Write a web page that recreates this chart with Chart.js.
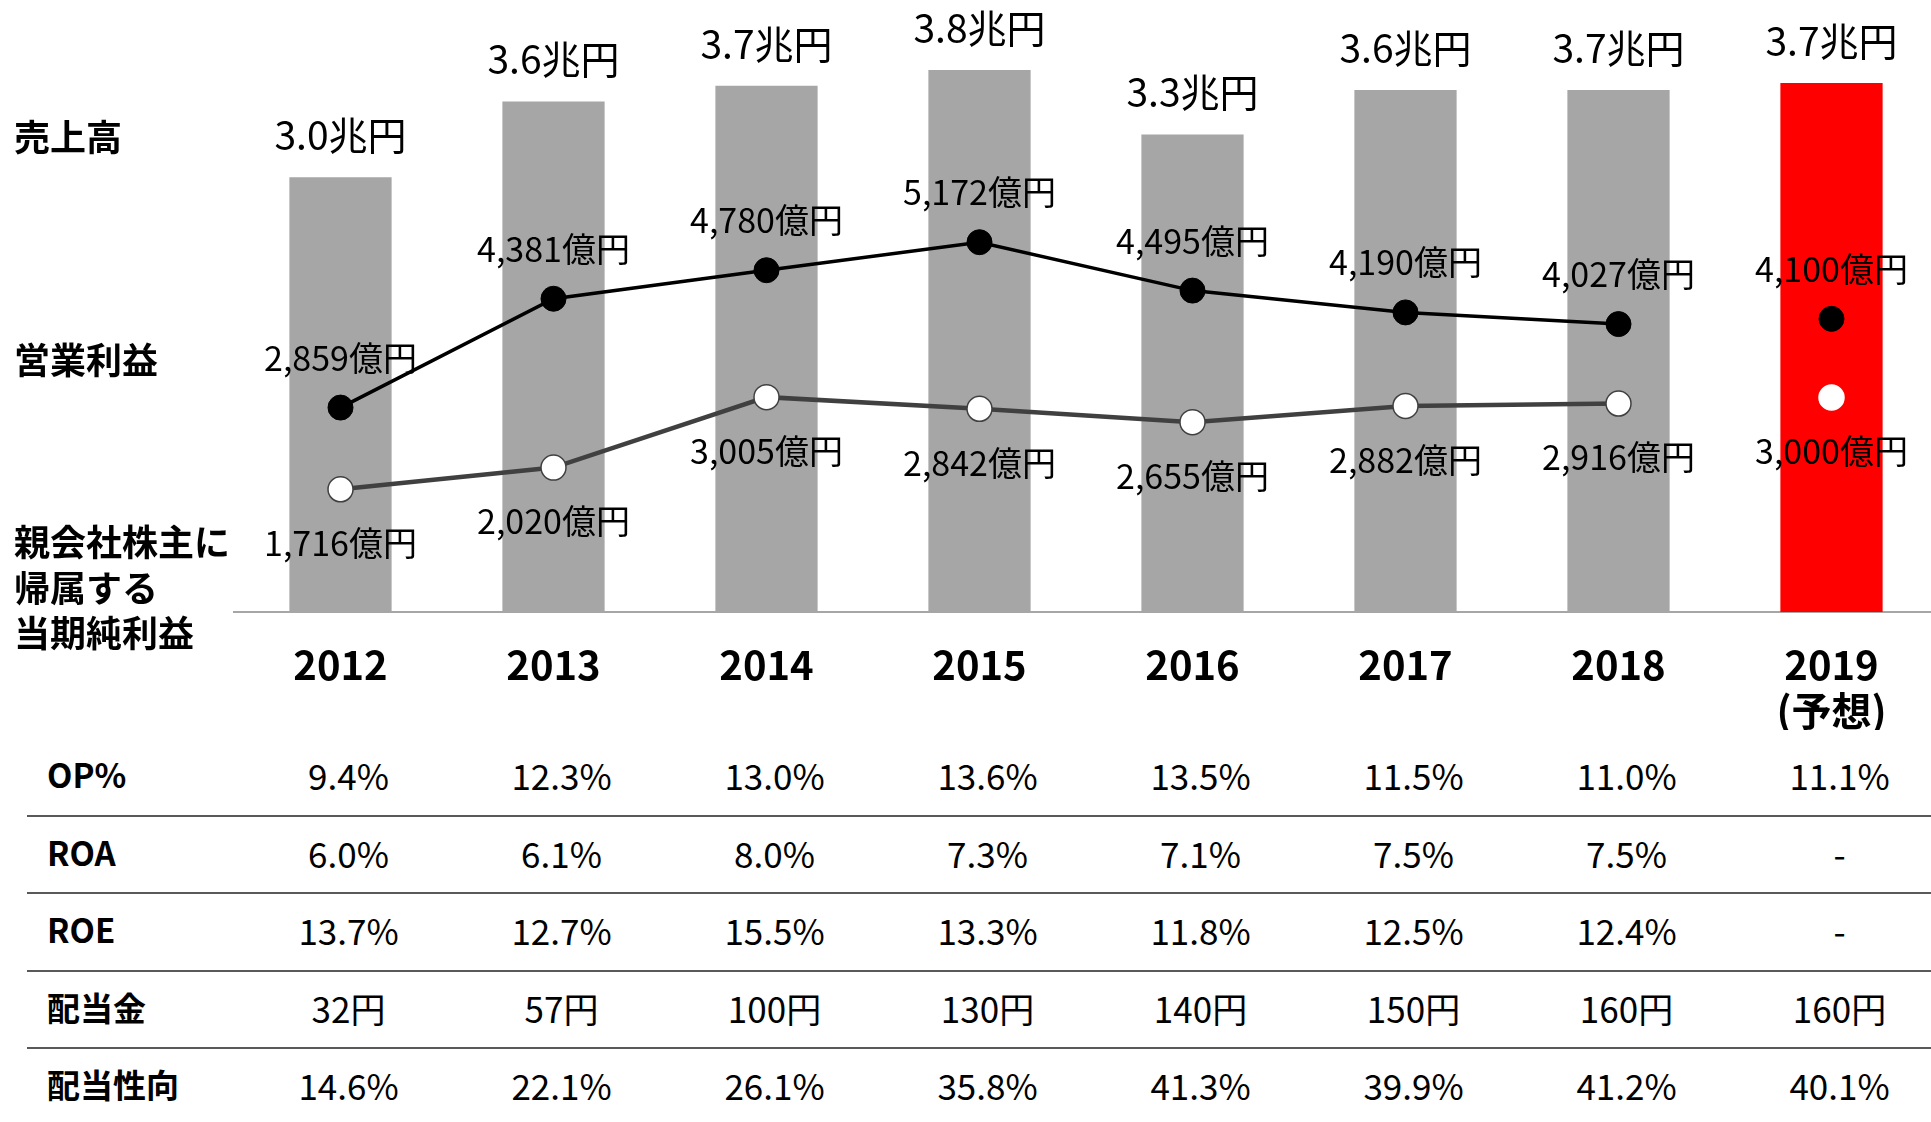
<!DOCTYPE html>
<html>
<head>
<meta charset="utf-8">
<script src="https://cdn.jsdelivr.net/npm/chart.js@4.4.1/dist/chart.umd.min.js"></script>
<style>
html,body{margin:0;padding:0;background:#fff;width:1931px;height:1122px;overflow:hidden;}
body{position:relative;font-family:"Noto Sans CJK JP","Noto Sans",sans-serif;color:#000;}
#c{position:absolute;left:0;top:0;width:1938px;height:730px;}
.side{position:absolute;left:14px;font-weight:700;font-size:36px;line-height:45.6px;white-space:nowrap;}
#table{position:absolute;left:0;top:736px;width:1931px;height:390px;}
.row{position:absolute;left:0;width:1931px;height:77.6px;}
.cell{position:absolute;top:0;height:77.6px;line-height:77.6px;font-size:35px;transform:translateX(-50%);white-space:nowrap;}
.rlabel{position:absolute;left:47px;top:0;height:77.6px;line-height:77.6px;font-size:33px;font-weight:700;white-space:nowrap;}
.rule{position:absolute;left:27px;width:1904px;height:2px;background:#595959;}
</style>
</head>
<body>
<canvas id="c" width="1938" height="730"></canvas>
<div class="side" style="top:113px;">売上高</div>
<div class="side" style="top:336px;">営業利益</div>
<div class="side" style="top:518px;">親会社株主に<br>帰属する<br>当期純利益</div>
<div id="table"></div>
<script>
// ---- data ----
const categories = ['2012', '2013', '2014', '2015', '2016', '2017', '2018', '2019'];
const categoryNotes = ['', '', '', '', '', '', '', '(予想)'];
const isForecast = [false, false, false, false, false, false, false, true];
const salesTrillionYen = [3.04, 3.57, 3.68, 3.79, 3.34, 3.65, 3.65, 3.70];
const salesLabels = ['3.0兆円', '3.6兆円', '3.7兆円', '3.8兆円', '3.3兆円', '3.6兆円', '3.7兆円', '3.7兆円'];
const operatingProfit = [2859, 4381, 4780, 5172, 4495, 4190, 4027, 4100];
const netProfit = [1716, 2020, 3005, 2842, 2655, 2882, 2916, 3000];
const tableRowLabels = ['OP%', 'ROA', 'ROE', '配当金', '配当性向'];
const opMargin = ['9.4%', '12.3%', '13.0%', '13.6%', '13.5%', '11.5%', '11.0%', '11.1%'];
const roa = ['6.0%', '6.1%', '8.0%', '7.3%', '7.1%', '7.5%', '7.5%', '-'];
const roe = ['13.7%', '12.7%', '15.5%', '13.3%', '11.8%', '12.5%', '12.4%', '-'];
const dividend = ['32円', '57円', '100円', '130円', '140円', '150円', '160円', '160円'];
const payoutRatio = ['14.6%', '22.1%', '26.1%', '35.8%', '41.3%', '39.9%', '41.2%', '40.1%'];
const oku = v => v.toLocaleString('en-US') + '億円';

const FONT = '"Noto Sans CJK JP", "Noto Sans", sans-serif';

const labelPlugin = {
  id: 'valueLabels',
  afterDatasetsDraw(chart) {
    const ctx = chart.ctx;
    ctx.save();
    ctx.fillStyle = '#000';
    ctx.textAlign = 'center';
    ctx.textBaseline = 'middle';
    ctx.font = '39px ' + FONT;
    chart.getDatasetMeta(2).data.forEach((el, i) => ctx.fillText(salesLabels[i], el.x, el.y - 42));
    ctx.font = '34px ' + FONT;
    chart.getDatasetMeta(0).data.forEach((el, i) => ctx.fillText(oku(operatingProfit[i]), el.x, el.y - 50));
    chart.getDatasetMeta(1).data.forEach((el, i) => ctx.fillText(oku(netProfit[i]), el.x, el.y + 54));
    ctx.restore();
  }
};

const chart = new Chart(document.getElementById('c'), {
  type: 'bar',
  data: {
    labels: categories.map((c, i) => categoryNotes[i] ? [c, categoryNotes[i]] : c),
    datasets: [
      {
        type: 'line', label: '営業利益', data: operatingProfit, yAxisID: 'yLine', order: 1,
        borderColor: '#000', borderWidth: 3.5, tension: 0, fill: false,
        pointRadius: 12.5, pointHoverRadius: 12.5, pointBackgroundColor: '#000',
        pointBorderColor: '#000', pointBorderWidth: 1,
        segment: { borderColor: c => isForecast[c.p1DataIndex] ? 'rgba(0,0,0,0)' : '#000' }
      },
      {
        type: 'line', label: '親会社株主に帰属する当期純利益', data: netProfit, yAxisID: 'yLine', order: 1,
        borderColor: '#404040', borderWidth: 4.5, tension: 0, fill: false,
        pointRadius: 12.5, pointHoverRadius: 12.5, pointBackgroundColor: '#fff',
        pointBorderColor: isForecast.map(f => f ? '#fff' : '#404040'), pointBorderWidth: 1.5,
        segment: { borderColor: c => isForecast[c.p1DataIndex] ? 'rgba(0,0,0,0)' : '#404040' }
      },
      {
        type: 'bar', label: '売上高', data: salesTrillionYen, yAxisID: 'yBar', order: 2,
        backgroundColor: isForecast.map(f => f ? '#ff0000' : '#a6a6a6'), borderWidth: 0,
        categoryPercentage: 0.5, barPercentage: 0.96
      }
    ]
  },
  options: {
    responsive: false, maintainAspectRatio: false, animation: false, devicePixelRatio: 1,
    events: [],
    layout: { autoPadding: false, padding: { left: 234, top: 40, right: 0, bottom: 0 } },
    plugins: { legend: { display: false }, tooltip: { enabled: false } },
    scales: {
      x: {
        type: 'category', offset: true,
        grid: { display: false, drawTicks: false },
        border: { display: true, color: '#a6a6a6', width: 2 },
        ticks: { color: '#000', padding: 30, maxRotation: 0, autoSkip: false,
                 font: { family: FONT, size: 40, weight: 'bold', lineHeight: 1.15 } },
        afterFit: s => { s.height = 118; s.paddingLeft = 0; s.paddingRight = 0; }
      },
      yBar: { type: 'linear', display: false, min: 0, max: 4.0 },
      yLine: { type: 'linear', display: false, min: 0, max: 8000 }
    }
  },
  plugins: [labelPlugin]
});

// ---- table below the chart, columns aligned to the chart's x scale ----
const tableValues = [opMargin, roa, roe, dividend, payoutRatio];
const table = document.getElementById('table');
const xs = chart.scales.x;
tableRowLabels.forEach((lab, r) => {
  const row = document.createElement('div');
  row.className = 'row';
  row.style.top = (r * 77.6) + 'px';
  const l = document.createElement('div');
  l.className = 'rlabel';
  l.textContent = lab;
  row.appendChild(l);
  tableValues[r].forEach((v, i) => {
    const c = document.createElement('div');
    c.className = 'cell';
    c.style.left = (xs.getPixelForValue(i) + 8) + 'px';
    c.textContent = v;
    row.appendChild(c);
  });
  table.appendChild(row);
  if (r < tableRowLabels.length - 1) {
    const rule = document.createElement('div');
    rule.className = 'rule';
    rule.style.top = (2 + (r + 1) * 77.6 - 1) + 'px';
    table.appendChild(rule);
  }
});
</script>
</body>
</html>
